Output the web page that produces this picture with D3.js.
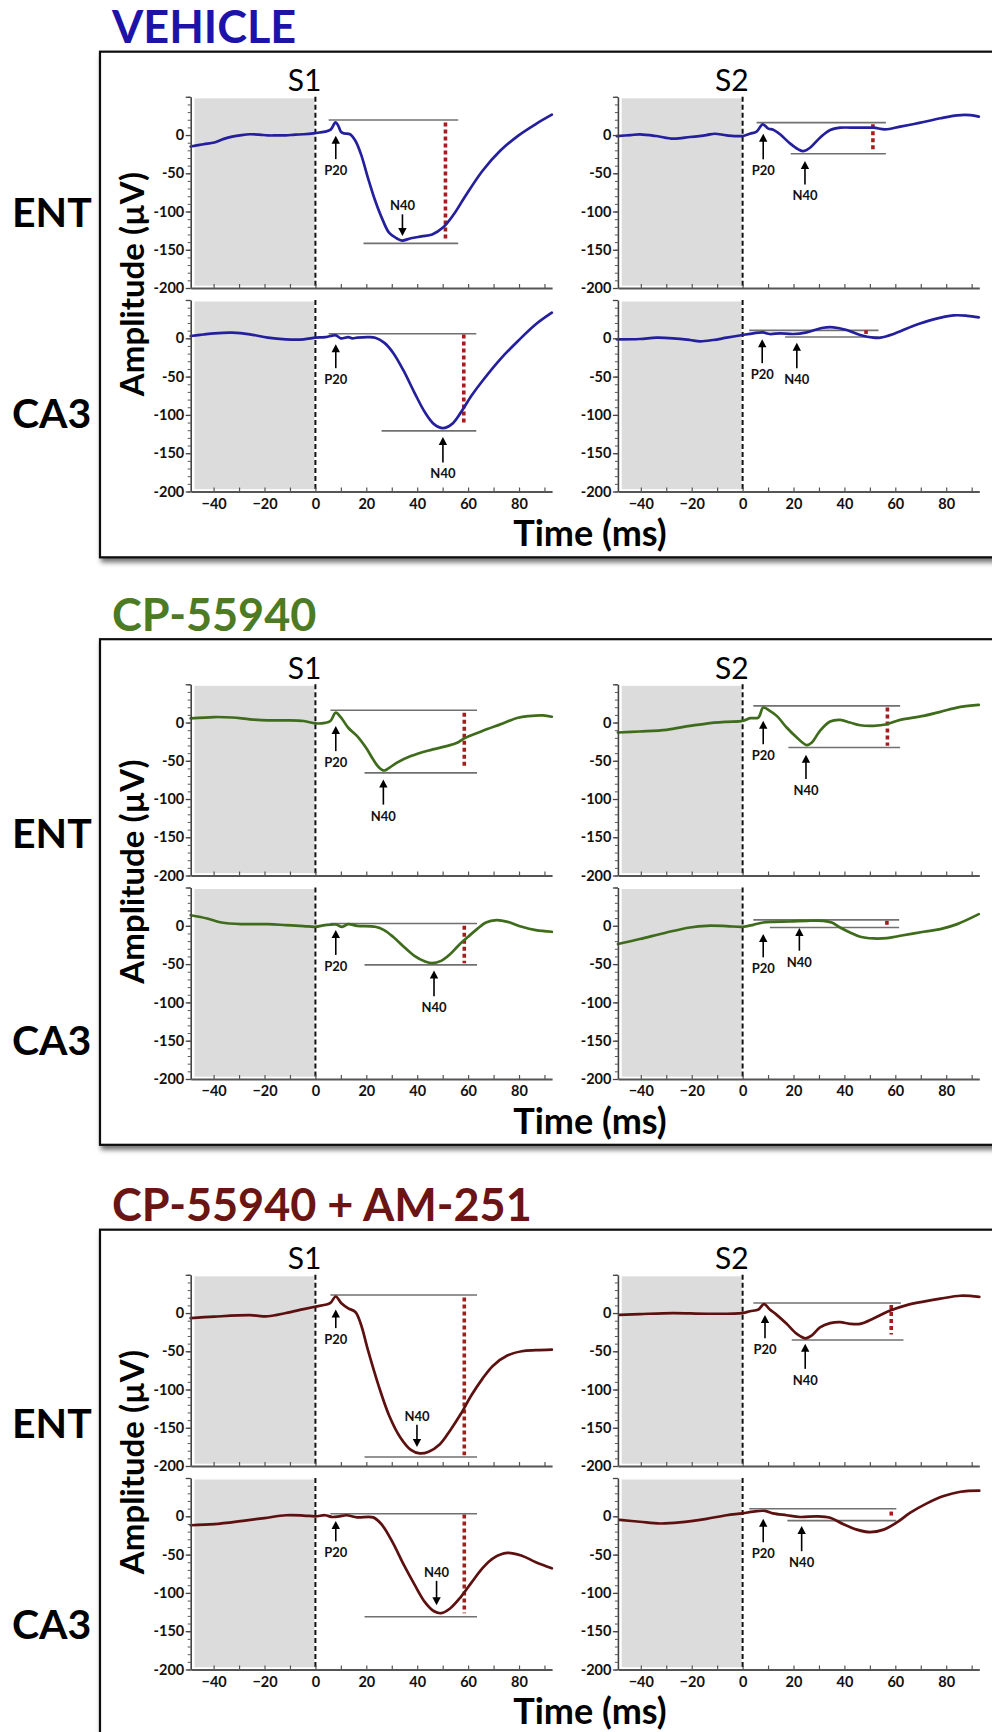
<!DOCTYPE html>
<html><head><meta charset="utf-8">
<script src="https://cdn.jsdelivr.net/npm/d3@7"></script>
<style>
body{margin:0;background:#fff;}
svg{display:block;}
text{font-family:Lato,"Open Sans","DejaVu Sans",sans-serif;}
</style>
</head><body>
<svg id="c" width="992" height="1732"></svg>
<script>
// ---------------- DATA ----------------
const conditions = ["VEHICLE", "CP-55940", "CP-55940 + AM-251"];
const stimuli = ["S1", "S2"];
const regions = ["ENT", "CA3"];
const xTickValues = [-40, -20, 0, 20, 40, 60, 80];
const yTickValues = [0, -50, -100, -150, -200];
const xDomain = [-49, 93];
const yDomain = [-200, 50];
const baselineWindow = [-47.5, -0.4];
const baselineLevels = [-197, 48];
const xAxisTitle = "Time (ms)";
const yAxisTitle = "Amplitude (µV)";

// traces: [time ms, amplitude µV]
const vehEntS1 = [[-49,-15],[-44,-12],[-39.7,-9.7],[-36,-5],[-32.7,-2],[-29,0],[-25.7,1],[-22,0.5],[-18.7,-0.5],[-15,-0.5],[-11.6,-0.5],[-8,0.5],[-4.6,1],[0,2.6],[3.8,4.4],[6,7],[7.9,16.5],[9,12],[10.1,4],[11.5,2],[13.6,1],[15.7,-7.5],[17.9,-25],[20.6,-55.6],[23.5,-86],[26.3,-110],[29,-128],[31.9,-135],[34,-138],[37.5,-135],[41.7,-132.5],[45.9,-130],[50.1,-121],[54.3,-104],[58.5,-82],[65.6,-47],[72.6,-20.6],[79.6,-1],[86.6,14.4],[92.9,26.6]];
const vehCa3S1 = [[-49,3],[-44,5],[-39.7,6.5],[-32.7,7.3],[-25.7,5.2],[-18.7,0.8],[-11.6,-1.3],[-4.6,-1.3],[0,0.8],[3.8,1.5],[6,3],[8,3.9],[10,0],[12.9,1.5],[14.5,0],[16.4,0.8],[20.6,1.5],[23.5,0.8],[27,-5.7],[30.5,-18.8],[34.7,-42.6],[38.9,-70.9],[43.1,-97],[46.6,-112],[50.1,-117.3],[53.6,-112],[57.1,-97],[61.3,-75],[65.6,-55.7],[72.6,-27.4],[79.6,-3.5],[86.6,18.3],[92.9,33.4]];
const vehEntS2 = [[-49.4,-1.3],[-44,0],[-40.4,0.9],[-33.9,-1.3],[-27.3,-4.8],[-20.7,-2.6],[-14.2,0],[-10.9,1.7],[-6.3,-0.4],[0,-1.3],[2.9,1.7],[5.5,4.4],[7.9,14],[10.1,8.4],[12,7],[14.7,1],[18.6,-10.9],[21.9,-18.7],[23.9,-21],[26.5,-16.6],[30.4,-3.5],[34.4,6.6],[38.3,9.6],[44.9,9.6],[51.4,9.6],[56,7.4],[61.9,11],[71.1,17],[77.7,21.9],[84.3,25.8],[89.5,26],[92.8,24.1]];
const vehCa3S2 = [[-49.4,-1.3],[-40.4,-0.9],[-33.9,0.8],[-27.3,0],[-20.7,-2.2],[-16.8,-3.9],[-11.6,-2.2],[-6.3,0.8],[0,4.3],[4.2,6.5],[7.9,7.8],[10.7,5.6],[14.7,6.5],[19.9,5.6],[25.2,7.8],[31.7,13.8],[35.7,14.3],[40.9,10.8],[46.2,4.3],[51.4,0.8],[54.1,0.8],[59.3,5.6],[67.2,16.4],[75,24.7],[82.9,29.9],[88.2,29.4],[92.8,27.3]];
const cpEntS1 = [[-49,5.5],[-39.7,7.2],[-32.7,6.6],[-25.7,4.2],[-18.7,2.9],[-11.6,2.9],[-4.6,2],[0,-1.1],[3.8,-0.4],[5.9,2],[8,12.9],[10.1,6.3],[12.9,-6.8],[16.4,-17.7],[19.9,-33],[22.7,-48.3],[24.8,-58],[27,-62.7],[29,-59.3],[31.9,-52.7],[37.5,-43.9],[44.5,-36.5],[51.5,-30.8],[55.7,-26.5],[58.5,-20.7],[65.6,-11.1],[72.6,-2.4],[79.6,6.3],[83.8,8.5],[89.4,9.4],[92.9,7.6]];
const cpCa3S1 = [[-49,13.8],[-42.5,9.5],[-36.9,4.3],[-28.5,2.2],[-18.7,2.2],[-11.6,0.9],[-4.6,-0.4],[0,-1.3],[3.8,0.9],[8,1.7],[10.5,-1.3],[12.9,2.2],[16.4,0],[23.5,-1.3],[27,-5.6],[30.5,-14.3],[34.7,-27.2],[38.9,-39.3],[43.1,-46.7],[45.9,-48.8],[49.4,-45.8],[52.9,-37.2],[56.4,-25],[60,-14.3],[63.5,-4.3],[67,4.3],[71.2,7.3],[75.5,5.2],[81.1,-1.3],[86.6,-5.6],[92.9,-7.8]];
const cpEntS2 = [[-49,-13],[-40.4,-11.7],[-29.9,-9.5],[-20.7,-4.3],[-14.2,-1.3],[-6.3,0.9],[0,2.2],[2.9,5.7],[6.2,6.5],[8.1,19.6],[10.7,15.3],[13.4,8.7],[17.3,-6.5],[21.3,-19.6],[25.2,-29.5],[27.2,-26.1],[30.4,-10.8],[34.4,1.3],[38.3,3.5],[42.2,0],[46.2,-3.5],[51.4,-4.3],[56.7,-2.2],[61.9,3.5],[71.1,8.7],[77.7,14],[85.6,20.5],[92.8,23.1]];
const cpCa3S2 = [[-49,-23.8],[-40.4,-17.3],[-29.9,-8.7],[-20.7,-2.2],[-14.2,0],[-6.3,-0.4],[0,-1.3],[4.2,1.3],[8.1,4.3],[12,5.2],[18.6,5.6],[25.2,6.5],[31.7,6.5],[35,4.3],[38.3,-2.2],[42.2,-8.7],[46.2,-14.3],[51.4,-16.5],[56.7,-16],[61.9,-13],[71.1,-7.8],[77.7,-4.3],[84.3,2.2],[92.8,15.2]];
const amEntS1 = [[-49,-6.6],[-39.7,-4.7],[-25.7,-2.8],[-18.7,-4.2],[-11.6,0],[-4.6,5.2],[0,8.4],[3.8,10.8],[5.9,13.2],[8,21.6],[10.1,13.2],[12.9,6.2],[15.7,1.4],[17.9,-14.9],[20.6,-47.8],[24.8,-94.6],[29,-134.3],[33.3,-162.4],[37.5,-178.9],[41,-183.5],[44.5,-181.3],[48.8,-171.9],[53,-153.2],[57.1,-132.1],[61.3,-107.6],[65.6,-86.1],[69.8,-68.8],[75.4,-55.6],[81.1,-50],[86.6,-48.6],[92.9,-47.8]];
const amCa3S1 = [[-49,-11.7],[-39.7,-10.3],[-28.5,-6],[-20,-2.3],[-11.6,1.4],[-4.6,1],[0,0],[3.8,1.4],[6.6,-0.9],[9.4,0],[12.2,1.4],[16.4,-1.4],[22.7,-1.4],[26.3,-11.7],[30.5,-35.1],[34.7,-63.2],[38.9,-88.9],[43.1,-112.4],[46.6,-124],[49.4,-126.5],[52.9,-120.3],[57.1,-105.4],[61.3,-86.6],[65.6,-67.9],[69.8,-54.8],[75.4,-47.8],[81.1,-51.5],[86.6,-59.9],[92.9,-67.9]];
const amEntS2 = [[-48.3,-2.4],[-40.4,-1.4],[-27.3,0],[-14.2,-0.9],[0,0],[2.9,2.4],[6.2,4.7],[8.4,11.7],[10.7,4.7],[13.4,-2.4],[17.3,-14.1],[21.3,-27.3],[24.6,-33],[27.2,-29.2],[30.4,-18.8],[34.4,-13.2],[38.3,-11.8],[42.2,-14.1],[46.2,-14.1],[51.4,-7.1],[58,3.3],[64.5,10.4],[71.1,15],[77.7,18.8],[85.6,22.6],[93,21.2]];
const amCa3S2 = [[-48.3,-4.7],[-40.4,-7.1],[-32.5,-9.4],[-24.7,-8],[-14.2,-3.3],[-6.3,1.4],[0,3.8],[4.2,6.2],[8.8,7.1],[12,3.8],[17.3,1.4],[22.6,-0.9],[29.2,0],[34.4,-1.9],[39.6,-10.3],[44.9,-17.4],[50.1,-20.7],[55.4,-17.4],[60.6,-8],[65.9,4.7],[72.4,16.9],[79,26.4],[85.6,32],[93,33.4]];

// annotations: top/bottom = [level µV, x0 ms, x1 ms]; red = [ms, y0, y1]; p20/n40 = [ms, tip µV, tail µV]
const annVehEntS1 = {top:[19.7,5.2,56.1], bottom:[-141.7,18.9,56.1], red:[51.1,16.5,-136.5], p20:[8,-1,-31.5], n40:[34.2,-132,-103.7]};
const annVehCa3S1 = {top:[6,5.2,63.2], bottom:[-120.9,26,63.2], red:[58.3,5,-114], p20:[8,-7.8,-39], n40:[50.1,-128.7,-162]};
const annVehEntS2 = {top:[16.2,5.5,56.3], bottom:[-24.4,18.9,56.3], red:[51.2,14,-21], p20:[8.1,1.8,-31.8], n40:[24.5,-34,-64.6]};
const annVehCa3S2 = {top:[10.4,2.6,53.4], bottom:[1.7,16.7,53.4], red:[48.5,10.4,5.7], p20:[7.7,-1.3,-32.5], n40:[21.3,-5.7,-39]};
const annCpEntS1 = {top:[16,5.9,63.5], bottom:[-65.8,19.3,63.5], red:[58.5,12.9,-59.3], p20:[8,-4.6,-37.4], n40:[26.7,-74.5,-107.3]};
const annCpCa3S1 = {top:[3,5.9,63.5], bottom:[-51,19.3,63.5], red:[58.5,0,-48.8], p20:[8,-5.6,-38], n40:[46.6,-58.3,-92]};
const annCpEntS2 = {top:[21.8,4.2,61.9], bottom:[-32.6,18,61.9], red:[56.9,19.6,-30.4], p20:[8.1,2.2,-28.3], n40:[24.9,-42,-73.9]};
const annCpCa3S2 = {top:[7.8,4.2,61.5], bottom:[-2.2,10.7,61.5], red:[56.7,6.5,1.3], p20:[8.1,-10.8,-41.2], n40:[22.3,-3,-32.5]};
const annAmEntS1 = {top:[23.5,5.9,63.5], bottom:[-188.3,19.3,63.5], red:[58.5,20.2,-185.9], p20:[8,4.7,-19.7], n40:[39.9,-175,-146]};
const annAmCa3S1 = {top:[3.3,5.9,63.5], bottom:[-131.1,19.3,63.5], red:[58.5,2.3,-126.5], p20:[8,-6,-32.7], n40:[47.6,-116,-84.3]};
const annAmEntS2 = {top:[13.1,4.2,62.2], bottom:[-35.3,19.3,63.2], red:[58.4,10.4,-28.2], p20:[8.8,-2.4,-33], n40:[24.6,-40,-73]};
const annAmCa3S2 = {top:[9.9,2.6,60.4], bottom:[-5.6,17.6,60.4], red:[58.4,6.2,0], p20:[8.1,-3.3,-33.9], n40:[23.2,-12.7,-45.6]};

const traces = [
  {S1:{ENT:vehEntS1, CA3:vehCa3S1}, S2:{ENT:vehEntS2, CA3:vehCa3S2}},
  {S1:{ENT:cpEntS1, CA3:cpCa3S1}, S2:{ENT:cpEntS2, CA3:cpCa3S2}},
  {S1:{ENT:amEntS1, CA3:amCa3S1}, S2:{ENT:amEntS2, CA3:amCa3S2}}
];
const annotations = [
  {S1:{ENT:annVehEntS1, CA3:annVehCa3S1}, S2:{ENT:annVehEntS2, CA3:annVehCa3S2}},
  {S1:{ENT:annCpEntS1, CA3:annCpCa3S1}, S2:{ENT:annCpEntS2, CA3:annCpCa3S2}},
  {S1:{ENT:annAmEntS1, CA3:annAmCa3S1}, S2:{ENT:annAmEntS2, CA3:annAmCa3S2}}
];

// ---------------- LAYOUT / STYLE ----------------
const panelTop = [0, 587.5, 1178];
const colRange = {S1:[190.7, 552.1], S2:[617.9, 979.3]};
const rowRange = {ENT:[288, 96.8], CA3:[491.5, 300]};
const rowLabelY = [{ENT:212, CA3:413}, {ENT:245, CA3:452}, {ENT:245, CA3:446}];
const titleColor = ["#1d13a8", "#4c7b23", "#6b1414"];
const traceColor = ["#24209d", "#3f6c1c", "#5c1010"];
const redColor = "#a51c1f";
const FONT = 'Lato,"Open Sans",sans-serif';

const svg = d3.select("#c");
const defs = svg.append("defs");
const f = defs.append("filter").attr("id","shadow").attr("x","-5%").attr("y","-5%").attr("width","115%").attr("height","115%");
f.append("feDropShadow").attr("dx",2).attr("dy",4).attr("stdDeviation",2.5).attr("flood-color","#000").attr("flood-opacity",0.55);

conditions.forEach((cond, ci) => {
  const g = svg.append("g").attr("transform", `translate(0,${panelTop[ci]})`);

  // box
  g.append("rect").attr("x",100).attr("y",51.7).attr("width",960).attr("height",505.6)
    .attr("fill","#fff").attr("stroke","#111").attr("stroke-width",2.2).attr("filter","url(#shadow)");

  // title
  g.append("text").attr("x",112).attr("y",43).attr("font-size",45).attr("font-weight",700)
    .attr("fill",titleColor[ci]).text(cond);

  // row labels
  regions.forEach(r => {
    g.append("text").attr("x",12).attr("y",rowLabelY[ci][r]+15).attr("font-size",41).attr("font-weight",700)
      .attr("fill","#000").text(r);
  });

  // y axis title
  g.append("text").attr("transform","translate(131,284) rotate(-90)").attr("text-anchor","middle")
    .attr("dominant-baseline","central").attr("font-size",33).attr("font-weight",700).attr("fill","#000").text(yAxisTitle);

  // x axis title
  g.append("text").attr("x",590).attr("y",546).attr("text-anchor","middle").attr("font-size",36)
    .attr("font-weight",700).attr("fill","#000").text(xAxisTitle);

  stimuli.forEach(st => {
    const x = d3.scaleLinear().domain(xDomain).range(colRange[st]);
    // stimulus label
    g.append("text").attr("x",x(0)+6).attr("y",91).attr("text-anchor","end").attr("font-size",30)
      .attr("fill","#000").text(st);

    regions.forEach(r => {
      const y = d3.scaleLinear().domain(yDomain).range(rowRange[r]);
      const pg = g.append("g");
      // shading
      pg.append("rect").attr("x",x(baselineWindow[0])).attr("width",x(baselineWindow[1])-x(baselineWindow[0]))
        .attr("y",y(baselineLevels[1])).attr("height",y(baselineLevels[0])-y(baselineLevels[1])).attr("fill","#dcdcdc");

      const ann = annotations[ci][st][r];
      // grey reference lines
      [ann.top, ann.bottom].forEach(l => {
        pg.append("line").attr("x1",x(l[1])).attr("x2",x(l[2])).attr("y1",y(l[0])).attr("y2",y(l[0]))
          .attr("stroke","#707070").attr("stroke-width",1.6);
      });
      // red dotted amplitude
      pg.append("line").attr("x1",x(ann.red[0])).attr("x2",x(ann.red[0])).attr("y1",y(ann.red[1])).attr("y2",y(ann.red[2]))
        .attr("stroke",redColor).attr("stroke-width",3.6).attr("stroke-dasharray","4,3");

      // zero dashed line
      pg.append("line").attr("x1",x(0)).attr("x2",x(0)).attr("y1",y(yDomain[1])).attr("y2",y(yDomain[0]))
        .attr("stroke","#111").attr("stroke-width",2).attr("stroke-dasharray","5,3");

      // trace
      const line = d3.line().x(d=>x(d[0])).y(d=>y(d[1])).curve(d3.curveCatmullRom.alpha(0.5));
      pg.append("path").datum(traces[ci][st][r]).attr("d",line).attr("fill","none")
        .attr("stroke",traceColor[ci]).attr("stroke-width",2.7).attr("stroke-linejoin","round").attr("stroke-linecap","round");

      // y axis minor
      const yMinor = d3.axisLeft(y).tickValues(d3.range(-200, 51, 10)).tickSize(3).tickFormat("");
      const ga1 = pg.append("g").attr("transform",`translate(${x(xDomain[0])},0)`).call(yMinor);
      ga1.select(".domain").remove();
      ga1.selectAll("text").remove();
      ga1.selectAll("line").attr("stroke","#555").attr("stroke-width",1);
      // y axis major
      const yMajor = d3.axisLeft(y).tickValues(d3.range(-200, 51, 50)).tickSizeInner(5).tickSizeOuter(0).tickPadding(1.5)
        .tickFormat(d => yTickValues.includes(d) ? d : "");
      const ga2 = pg.append("g").attr("transform",`translate(${x(xDomain[0])},0)`).call(yMajor);
      ga2.select(".domain").attr("stroke","#444").attr("stroke-width",1.6);
      ga2.selectAll("line").attr("stroke","#444").attr("stroke-width",1.3);
      ga2.selectAll("text").filter(function(){ return this.textContent === ""; }).remove();
      ga2.selectAll("text").attr("font-family",FONT).attr("font-size",14.5).attr("font-weight",700).attr("fill","#111");

      // x axis ticks
      const xMinor = d3.axisBottom(x).tickValues(d3.range(-40, 91, 10)).tickSizeInner(-4).tickSizeOuter(0).tickFormat("");
      const gx = pg.append("g").attr("transform",`translate(0,${y(yDomain[0])})`).call(xMinor);
      gx.selectAll("text").remove();
      gx.select(".domain").attr("stroke","#555").attr("stroke-width",1.8);
      gx.selectAll("line").attr("stroke","#555").attr("stroke-width",1.2);
      if (r === "CA3") {
        const xLab = d3.axisBottom(x).tickValues(xTickValues).tickSize(0).tickPadding(7);
        const gl = pg.append("g").attr("transform",`translate(0,${y(yDomain[0])})`).call(xLab);
        gl.select(".domain").remove();
        gl.selectAll("text").attr("font-family",FONT).attr("font-size",14.5).attr("font-weight",700).attr("fill","#111");
      }

      // arrows
      [["P20", ann.p20], ["N40", ann.n40]].forEach(([lab, a]) => {
        const px = x(a[0]), ty = y(a[1]), ly = y(a[2]);
        const dir = ty < ly ? -1 : 1; // -1: points up
        const head = 8, hw = 4.2;
        pg.append("line").attr("x1",px).attr("x2",px).attr("y1",ly).attr("y2",ty - dir*head + dir*1)
          .attr("stroke","#000").attr("stroke-width",1.6);
        pg.append("path").attr("d",`M${px},${ty} L${px-hw},${ty-dir*head} L${px+hw},${ty-dir*head} Z`).attr("fill","#000");
        pg.append("text").attr("x",px).attr("y", dir < 0 ? ly + 16 : ly - 4).attr("text-anchor","middle")
          .attr("font-size",13).attr("font-weight",700).attr("fill","#111").text(lab);
      });
    });
  });
});
</script>
</body></html>
